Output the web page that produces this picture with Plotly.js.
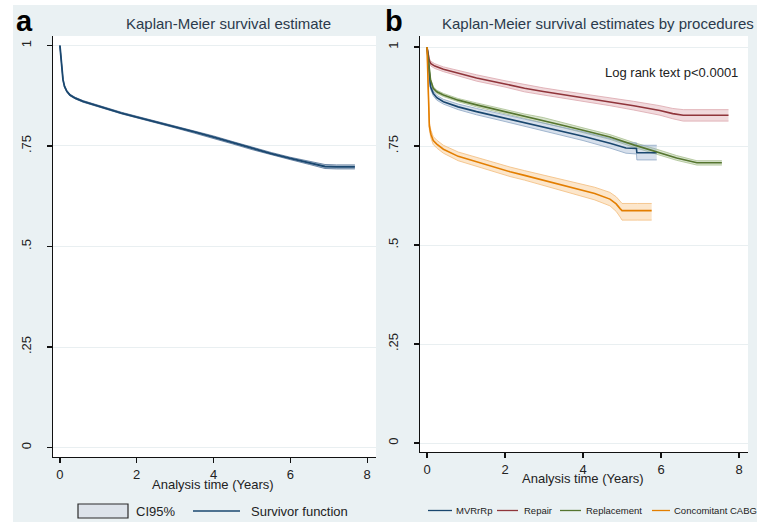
<!DOCTYPE html>
<html>
<head>
<meta charset="utf-8">
<script src="https://cdn.plot.ly/plotly-3.0.1.min.js"></script>
<style>html,body{margin:0;padding:0;background:#fff;}#chart{width:757px;height:522px;}</style>
</head>
<body>
<div id="chart"></div>
<script>
// ---------- Panel a: overall survival ----------
const timeA  = [0, 0.03, 0.05, 0.08, 0.12, 0.18, 0.26, 0.4, 0.6, 0.9, 1.2, 1.6, 2.0, 2.5, 3.0, 3.5, 4.0, 4.5, 5.0, 5.5, 6.0, 6.5, 6.9, 7.2, 7.68];
const survA  = [1, 0.97, 0.935, 0.915, 0.898, 0.886, 0.877, 0.869, 0.861, 0.852, 0.843, 0.832, 0.822, 0.810, 0.797, 0.785, 0.772, 0.758, 0.744, 0.731, 0.719, 0.708, 0.699, 0.698, 0.698];
const lowerA = [1, 0.968, 0.933, 0.913, 0.896, 0.884, 0.875, 0.867, 0.859, 0.850, 0.841, 0.830, 0.820, 0.808, 0.795, 0.782, 0.769, 0.755, 0.741, 0.728, 0.716, 0.704, 0.694, 0.693, 0.693];
const upperA = [1, 0.972, 0.937, 0.917, 0.900, 0.888, 0.879, 0.871, 0.863, 0.854, 0.845, 0.834, 0.824, 0.812, 0.799, 0.788, 0.775, 0.761, 0.747, 0.734, 0.722, 0.711, 0.704, 0.703, 0.703];

// ---------- Panel b: by procedure ----------
const timeRepair  = [0, 0.03, 0.06, 0.1, 0.2, 0.42, 0.8, 1.27, 2.0, 2.5, 2.98, 3.5, 4.0, 4.69, 5.3, 5.97, 6.3, 6.57, 7.0, 7.73];
const survRepair  = [1, 0.98, 0.965, 0.958, 0.952, 0.944, 0.934, 0.922, 0.907, 0.896, 0.888, 0.880, 0.872, 0.862, 0.852, 0.840, 0.832, 0.828, 0.828, 0.828];
const lowRepair   = [1, 0.975, 0.959, 0.952, 0.946, 0.938, 0.927, 0.914, 0.899, 0.887, 0.879, 0.871, 0.862, 0.852, 0.841, 0.828, 0.819, 0.813, 0.813, 0.813];
const upRepair    = [1, 0.985, 0.971, 0.964, 0.958, 0.950, 0.941, 0.930, 0.915, 0.905, 0.897, 0.889, 0.882, 0.872, 0.863, 0.852, 0.845, 0.842, 0.842, 0.842];

const timeReplace = [0, 0.03, 0.06, 0.09, 0.16, 0.25, 0.42, 0.8, 1.27, 2.0, 2.5, 2.98, 3.5, 4.0, 4.69, 5.3, 5.89, 6.4, 6.92, 7.2, 7.56];
const survReplace = [1, 0.97, 0.94, 0.917, 0.896, 0.887, 0.879, 0.866, 0.854, 0.837, 0.826, 0.816, 0.802, 0.790, 0.773, 0.753, 0.736, 0.720, 0.708, 0.708, 0.708];
const lowReplace  = [1, 0.966, 0.936, 0.913, 0.892, 0.883, 0.875, 0.862, 0.849, 0.832, 0.821, 0.810, 0.796, 0.784, 0.767, 0.747, 0.730, 0.714, 0.702, 0.702, 0.702];
const upReplace   = [1, 0.974, 0.944, 0.921, 0.900, 0.891, 0.883, 0.870, 0.859, 0.842, 0.831, 0.822, 0.808, 0.796, 0.779, 0.759, 0.742, 0.726, 0.713, 0.713, 0.713];

const timeMVR = [0, 0.03, 0.06, 0.09, 0.16, 0.25, 0.42, 0.8, 1.27, 2.0, 2.5, 2.98, 3.5, 4.0, 4.69, 5.1, 5.37, 5.38, 5.89];
const survMVR = [1, 0.96, 0.92, 0.90, 0.883, 0.872, 0.862, 0.849, 0.837, 0.820, 0.809, 0.799, 0.787, 0.775, 0.757, 0.745, 0.744, 0.733, 0.733];
const lowMVR  = [1, 0.955, 0.914, 0.894, 0.877, 0.866, 0.856, 0.842, 0.829, 0.812, 0.800, 0.790, 0.777, 0.764, 0.745, 0.732, 0.730, 0.715, 0.715];
const upMVR   = [1, 0.965, 0.926, 0.906, 0.889, 0.878, 0.868, 0.856, 0.845, 0.828, 0.818, 0.808, 0.797, 0.786, 0.769, 0.758, 0.758, 0.752, 0.752];

const timeCABG = [0, 0.02, 0.04, 0.06, 0.1, 0.16, 0.25, 0.42, 0.8, 1.27, 1.7, 2.13, 2.5, 2.98, 3.4, 3.84, 4.3, 4.69, 4.85, 4.95, 5.0, 5.4, 5.76];
const survCABG = [1, 0.93, 0.85, 0.80, 0.78, 0.764, 0.755, 0.742, 0.724, 0.710, 0.697, 0.685, 0.676, 0.664, 0.654, 0.643, 0.630, 0.616, 0.604, 0.592, 0.587, 0.587, 0.587];
const lowCABG  = [1, 0.922, 0.841, 0.791, 0.770, 0.754, 0.745, 0.732, 0.713, 0.699, 0.686, 0.673, 0.664, 0.651, 0.640, 0.628, 0.614, 0.599, 0.585, 0.571, 0.563, 0.563, 0.563];
const upCABG   = [1, 0.938, 0.859, 0.809, 0.790, 0.774, 0.765, 0.752, 0.735, 0.721, 0.708, 0.697, 0.688, 0.677, 0.668, 0.658, 0.646, 0.633, 0.622, 0.611, 0.605, 0.605, 0.605];

const xTicks = [0, 2, 4, 6, 8];
const yTicks = [0, 0.25, 0.5, 0.75, 1];
const yTickText = ["0", ".25", ".5", ".75", "1"];

const legendA = ["CI95%", "Survivor function"];
const legendB = ["MVRrRp", "Repair", "Replacement", "Concomitant CABG"];

const FONT = "Liberation Sans, Arial, sans-serif";
const W = 757, H = 522;
const px = v => v / W;
const py = v => 1 - v / H;

function band(x, lo, up, xa, ya, edge, fill, ew) {
  const upper = {x: x, y: up, xaxis: xa, yaxis: ya, type: 'scatter', mode: 'lines',
    line: {color: edge, width: ew || 0.8}, showlegend: false, hoverinfo: 'skip'};
  const lower = {x: x, y: lo, xaxis: xa, yaxis: ya, type: 'scatter', mode: 'lines',
    line: {color: edge, width: ew || 0.8}, fill: 'tonexty', fillcolor: fill, showlegend: false, hoverinfo: 'skip'};
  return [upper, lower];
}
function line(x, y, xa, ya, color, name, w) {
  return {x: x, y: y, xaxis: xa, yaxis: ya, type: 'scatter', mode: 'lines', name: name,
    line: {color: color, width: w || 1.6}, showlegend: false};
}

const NAVY = '#1a476f', MAROON = '#90353b', GREEN = '#55752f', ORANGE = '#e37e00';

const traces = [];
traces.push(...band(timeA, lowerA, upperA, 'x', 'y', '#3d5f86', '#b9c9da', 0.7));
traces.push(line(timeA, survA, 'x', 'y', NAVY, legendA[1], 1.8));

traces.push(...band(timeRepair, lowRepair, upRepair, 'x2', 'y2', '#dca7ad', 'rgba(214,150,158,0.35)'));
traces.push(...band(timeReplace, lowReplace, upReplace, 'x2', 'y2', '#a8bf8f', 'rgba(150,180,120,0.35)'));
traces.push(...band(timeMVR, lowMVR, upMVR, 'x2', 'y2', '#8ea7c4', 'rgba(140,165,200,0.35)'));
traces.push(...band(timeCABG, lowCABG, upCABG, 'x2', 'y2', '#f3bd7c', 'rgba(248,200,140,0.45)'));
traces.push(line(timeMVR, survMVR, 'x2', 'y2', NAVY, legendB[0]));
traces.push(line(timeRepair, survRepair, 'x2', 'y2', MAROON, legendB[1]));
traces.push(line(timeReplace, survReplace, 'x2', 'y2', GREEN, legendB[2]));
traces.push(line(timeCABG, survCABG, 'x2', 'y2', ORANGE, legendB[3]));

const xaxisBase = {
  range: [-0.18, 8.23], tickvals: xTicks, ticks: 'outside', ticklen: 5, tickwidth: 1.2, tickcolor: '#111',
  showline: true, linecolor: '#111', linewidth: 1.4, showgrid: false, zeroline: false, ticklabelstandoff: 0,
  tickfont: {family: FONT, size: 13, color: '#222'}, fixedrange: true
};
const yaxisBase = {
  tickvals: yTicks, ticktext: yTickText, tickangle: -90, ticks: 'outside', ticklen: 5, tickwidth: 1.2, tickcolor: '#111',
  showline: true, linecolor: '#111', linewidth: 1.4, showgrid: true, gridcolor: '#e9eff1', gridwidth: 1, zeroline: false,
  ticklabelstandoff: 10,
  tickfont: {family: FONT, size: 13, color: '#222'}, fixedrange: true
};

function ann(text, x, y, size, anchor, color, bold) {
  return {text: bold ? '<b>' + text + '</b>' : text, xref: 'paper', yref: 'paper', x: px(x), y: py(y),
    xanchor: anchor, yanchor: 'middle', showarrow: false,
    font: {family: FONT, size: size, color: color || '#222'}};
}
function legLine(x0, x1, y, color) {
  return {type: 'line', xref: 'paper', yref: 'paper', x0: px(x0), x1: px(x1), y0: py(y), y1: py(y),
    line: {color: color, width: 1.3}, layer: 'above'};
}

const layout = {
  width: W, height: H, margin: {l: 0, r: 0, t: 0, b: 0, autoexpand: false},
  paper_bgcolor: '#eaf1f3', plot_bgcolor: '#ffffff',
  font: {family: FONT, color: '#222'},
  showlegend: false,
  xaxis: Object.assign({}, xaxisBase, {domain: [px(53), px(376)], anchor: 'y'}),
  yaxis: Object.assign({}, yaxisBase, {domain: [py(457), py(36)], range: [-0.0236, 1.0236], anchor: 'x'}),
  xaxis2: Object.assign({}, xaxisBase, {domain: [px(420), px(748)], anchor: 'y2'}),
  yaxis2: Object.assign({}, yaxisBase, {domain: [py(452), py(36)], range: [-0.0227, 1.028], anchor: 'x2'}),
  shapes: [
    {type: 'rect', xref: 'paper', yref: 'paper', x0: 0, x1: px(13), y0: 0, y1: 1, fillcolor: '#ffffff', line: {width: 0}, layer: 'above'},
    {type: 'rect', xref: 'paper', yref: 'paper', x0: 0, x1: 1, y0: py(5), y1: 1, fillcolor: '#ffffff', line: {width: 0}, layer: 'above'},
    // legend a
    {type: 'rect', xref: 'paper', yref: 'paper', x0: px(78), x1: px(128), y0: py(518), y1: py(504),
     fillcolor: '#dde3ea', line: {color: '#2a2a2a', width: 1.2}, layer: 'above'},
    legLine(193, 240, 511, NAVY),
    // legend b
    legLine(428, 452, 510.5, NAVY),
    legLine(497, 518, 510.5, MAROON),
    legLine(560, 581, 510.5, GREEN),
    legLine(652, 670, 510.5, ORANGE)
  ],
  annotations: [
    ann('a', 14, 21, 29, 'left', '#000', true),
    ann('b', 383, 21, 29, 'left', '#000', true),
    ann('Kaplan-Meier survival estimate', 228, 23, 15, 'center', '#2b3a4c'),
    ann('Kaplan-Meier survival estimates by procedures', 440, 23, 15, 'left', '#2b3a4c'),
    ann('Log rank text p<0.0001', 603, 72, 13, 'left', '#222'),
    ann('Analysis time (Years)', 213, 484, 13, 'center', '#222'),
    ann('Analysis time (Years)', 583, 478, 13, 'center', '#222'),
    ann(legendA[0], 134, 511, 13, 'left', '#222'),
    ann(legendA[1], 249, 511, 13, 'left', '#222'),
    ann(legendB[0], 454, 510, 9.5, 'left', '#222'),
    ann(legendB[1], 522, 510, 9.5, 'left', '#222'),
    ann(legendB[2], 584, 510, 9.5, 'left', '#222'),
    ann(legendB[3], 672, 510, 9.5, 'left', '#222')
  ]
};

Plotly.newPlot('chart', traces, layout, {displayModeBar: false, staticPlot: true});
</script>
</body>
</html>
